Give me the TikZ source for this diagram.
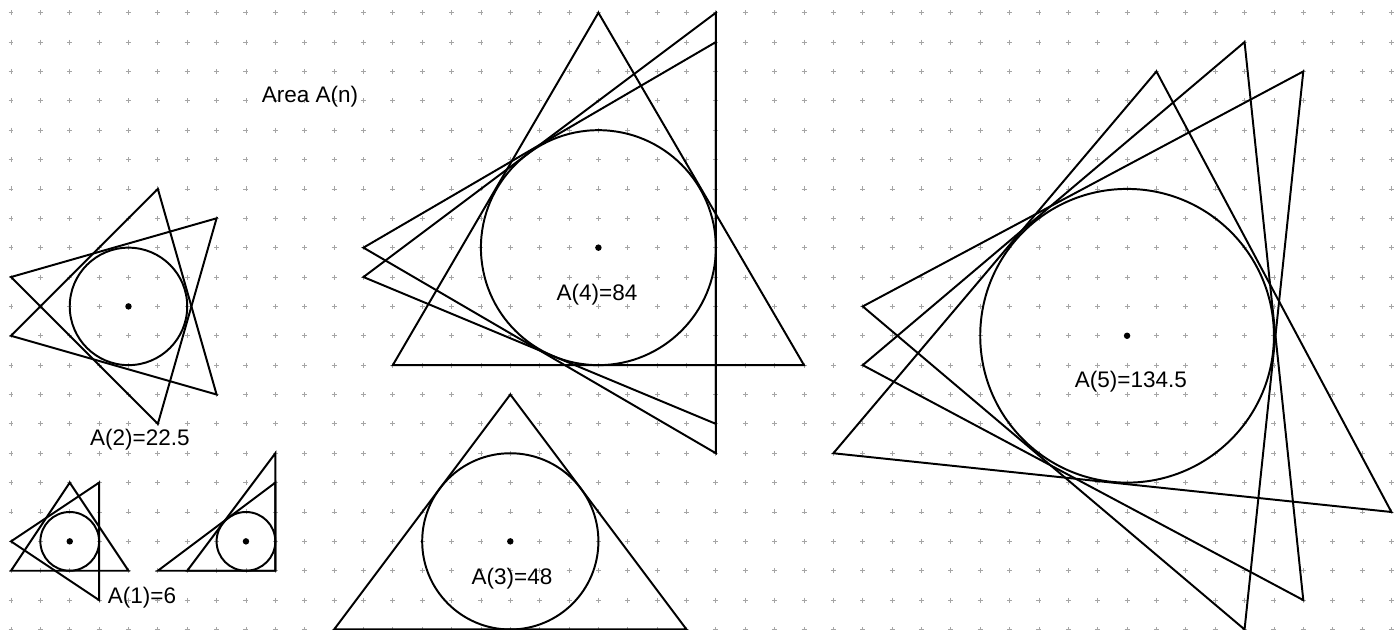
\documentclass[tikz,border=0pt]{standalone}
\usepackage{fontspec}
\setmainfont{Liberation Sans}
\definecolor{gridgrey}{RGB}{165,165,165}

\begin{document}
\begin{tikzpicture}[
        x=1cm, y=-1cm,
        gridmark/.style={draw=gridgrey, line width=0.8pt},
        tri/.style={draw=black, line width=1.9pt, line join=miter},
        incirc/.style={draw=black, line width=1.9pt},
        lbl/.style={font=\fontsize{21.8}{26}\selectfont, inner sep=0pt, text=black}
    ]
    \useasboundingbox (-0.3745,-0.4324) rectangle (47.293,21.018);

    % dotted lattice
    \foreach \i in {0,...,47}
        \foreach \j in {0,...,21}
            \draw[gridmark] (\i-0.085,\j) -- ++(0.17,0) (\i,\j-0.085) -- ++(0,0.17);

    % n = 1
    \coordinate (c1a) at (2,18);
    \coordinate (c1b) at (8,18);
    \draw[tri] (0,19) -- (4,19) -- (2,16) -- cycle;
    \draw[tri] (0,18) -- (3,16) -- (3,20) -- cycle;
    \draw[incirc] (c1a) circle (1);
    \draw[tri] (5,19) -- (9,19) -- (9,16) -- cycle;
    \draw[tri] (6,19) -- (9,19) -- (9,15) -- cycle;
    \draw[incirc] (c1b) circle (1);

    % n = 2
    \coordinate (c2) at (4,10);
    \draw[tri] (5,6) -- (0,11) -- (7,13) -- cycle;
    \draw[tri] (0,9) -- (7,7) -- (5,14) -- cycle;
    \draw[incirc] (c2) circle (2);

    % n = 3
    \coordinate (c3) at (17,18);
    \draw[tri] (17,13) -- (11,21) -- (23,21) -- cycle;
    \draw[incirc] (c3) circle (3);

    % n = 4
    \coordinate (c4) at (20,8);
    \draw[tri] (20,0) -- (13,12) -- (27,12) -- cycle;
    \draw[tri] (12,8) -- (24,1) -- (24,15) -- cycle;
    \draw[tri] (12,9) -- (24,0) -- (24,14) -- cycle;
    \draw[incirc] (c4) circle (4);

    % n = 5
    \coordinate (c5) at (38,11);
    \draw[tri] (39,2) -- (28,15) -- (47,17) -- cycle;
    \draw[tri] (42,1) -- (29,12) -- (44,20) -- cycle;
    \draw[tri] (44,2) -- (29,10) -- (42,21) -- cycle;
    \draw[incirc] (c5) circle (5);

    % centres
    \foreach \c in {c1a,c1b,c2,c3,c4,c5}
        \fill (\c) circle (0.11);

    % labels
    \node[lbl] (title) at (10.18,2.87) {Area A(n)};
    \node[lbl] (lab1) at (4.46,19.93) {A(1)=6};
    \node[lbl] (lab2) at (4.39,14.55) {A(2)=22.5};
    \node[lbl] (lab3) at (17.06,19.28) {A(3)=48};
    \node[lbl] (lab4) at (19.95,9.61) {A(4)=84};
    \node[lbl] (lab5) at (38.13,12.57) {A(5)=134.5};
\end{tikzpicture}
\end{document}
